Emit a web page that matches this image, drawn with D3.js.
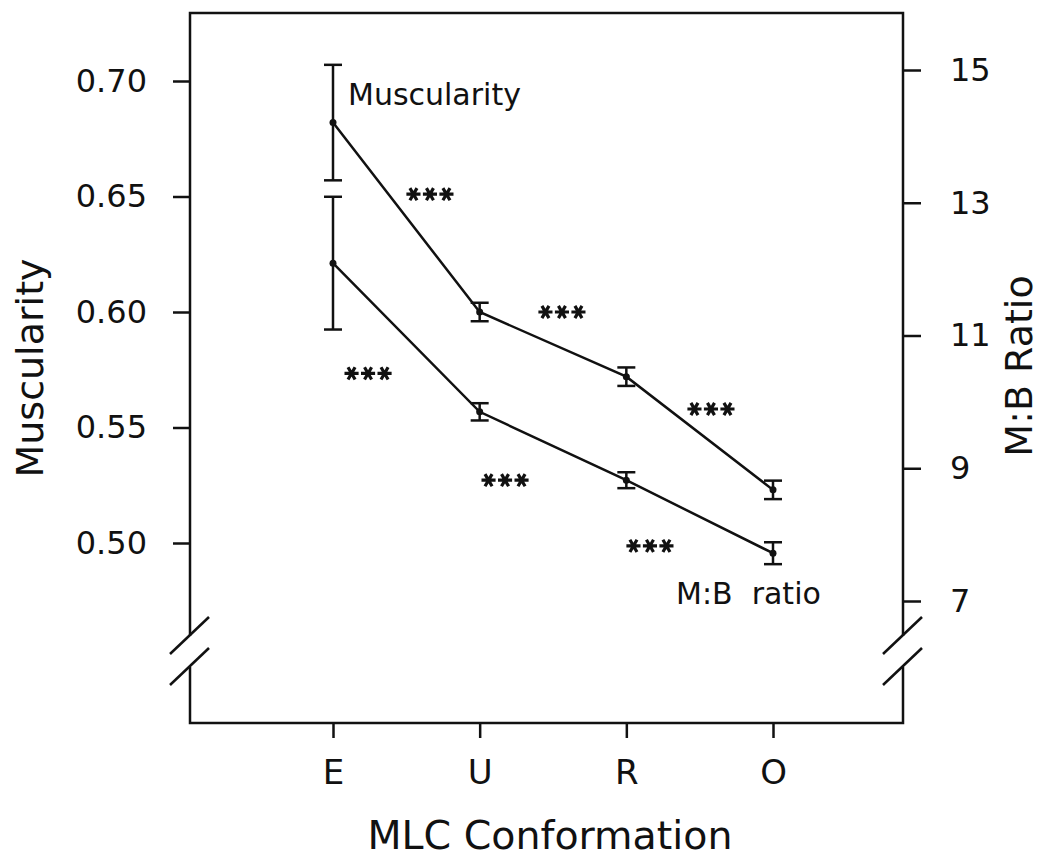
<!DOCTYPE html>
<html>
<head>
<meta charset="utf-8">
<script src="https://cdn.jsdelivr.net/npm/d3@7"></script>
<style>
  body { margin: 0; background: #fff; }
  svg { display: block; }
  text { font-family: "DejaVu Sans", sans-serif; fill: #111; }
</style>
</head>
<body>
<svg id="chart" width="1041" height="857"></svg>
<script>
// ---- data ----
const categories = ["E", "U", "R", "O"];
const muscularity = [0.682, 0.600, 0.572, 0.523];
const muscularitySE = [0.025, 0.004, 0.004, 0.004];
const mbRatio = [12.09, 9.85, 8.82, 7.72];
const mbRatioSE = [1.00, 0.13, 0.12, 0.165];
const leftTicks = [0.50, 0.55, 0.60, 0.65, 0.70];
const rightTicks = [7, 9, 11, 13, 15];
// significance marks: position between categories (index units) and value on the series' own axis
const sigMusc = [{i: 0.661, v: 0.651}, {i: 1.561, v: 0.600}, {i: 2.577, v: 0.558}];
const sigMB = [{i: 0.239, v: 10.43}, {i: 1.173, v: 8.82}, {i: 2.161, v: 7.83}];

// ---- layout ----
const svg = d3.select("#chart");
const box = {left: 190, right: 903, top: 13, bottom: 723};
const breakTop = 636, breakBot = 667;

const x = d3.scalePoint().domain(categories).range([333, 773]);
const xi = d3.scaleLinear().domain([0, categories.length - 1]).range([333, 773]);
const yL = d3.scaleLinear().domain([0.50, 0.70]).range([543, 81]);
const yR = d3.scaleLinear().domain([7, 15]).range([601, 70]);

const ink = "#111";
const sw = 2.5;

// frame with axis breaks
const g = svg.append("g").attr("stroke", ink).attr("stroke-width", sw).attr("fill", "none");
g.append("path").attr("d",
  `M${box.left},${breakTop} V${box.top} H${box.right} V${breakTop}`);
g.append("path").attr("d",
  `M${box.left},${breakBot} V${box.bottom} H${box.right} V${breakBot}`);
// break slashes
[box.left, box.right].forEach(ax => {
  [breakTop, breakBot].forEach(by => {
    g.append("line")
      .attr("x1", ax - 20).attr("y1", by + 18)
      .attr("x2", ax + 19).attr("y2", by - 19);
  });
});

// axes
const fontTick = 32;
const leftAxis = d3.axisLeft(yL).tickValues(leftTicks).tickFormat(d3.format(".2f"))
  .tickSize(17).tickPadding(26);
const gl = svg.append("g").attr("transform", `translate(${box.left},0)`).call(leftAxis);

const rightAxis = d3.axisRight(yR).tickValues(rightTicks).tickFormat(d3.format("d"))
  .tickSize(18).tickPadding(29);
const gr = svg.append("g").attr("transform", `translate(${box.right},0)`).call(rightAxis);

const bottomAxis = d3.axisBottom(x).tickSize(15).tickPadding(22);
const gb = svg.append("g").attr("transform", `translate(0,${box.bottom})`).call(bottomAxis);

[gl, gr, gb].forEach(a => {
  a.select(".domain").remove();
  a.selectAll(".tick line").attr("stroke", ink).attr("stroke-width", sw);
  a.selectAll(".tick text").attr("font-size", fontTick).attr("fill", ink)
    .style("font-family", "'DejaVu Sans', sans-serif");
});
gb.selectAll(".tick text").attr("font-size", 34);

// axis titles
svg.append("text")
  .attr("transform", `translate(43,368) rotate(-90)`)
  .attr("text-anchor", "middle").attr("font-size", 38).text("Muscularity");
svg.append("text")
  .attr("transform", `translate(1032,366) rotate(-90)`)
  .attr("text-anchor", "middle").attr("font-size", 38).text("M:B Ratio");
svg.append("text")
  .attr("x", 550).attr("y", 849)
  .attr("text-anchor", "middle").attr("font-size", 39.5).text("MLC Conformation");

// series
function drawSeries(vals, se, yScale) {
  const s = svg.append("g");
  const line = d3.line().x((d, i) => x(categories[i])).y(d => yScale(d));
  s.append("path").datum(vals).attr("d", line)
    .attr("fill", "none").attr("stroke", ink).attr("stroke-width", sw);
  const eb = s.selectAll("g.eb").data(vals).join("g");
  eb.append("line")
    .attr("x1", (d, i) => x(categories[i])).attr("x2", (d, i) => x(categories[i]))
    .attr("y1", (d, i) => yScale(d + se[i])).attr("y2", (d, i) => yScale(d - se[i]))
    .attr("stroke", ink).attr("stroke-width", sw);
  [1, -1].forEach(sign => {
    eb.append("line")
      .attr("x1", (d, i) => x(categories[i]) - 9).attr("x2", (d, i) => x(categories[i]) + 9)
      .attr("y1", (d, i) => yScale(d + sign * se[i])).attr("y2", (d, i) => yScale(d + sign * se[i]))
      .attr("stroke", ink).attr("stroke-width", sw);
  });
  eb.append("circle")
    .attr("cx", (d, i) => x(categories[i])).attr("cy", d => yScale(d))
    .attr("r", 3.5).attr("fill", ink);
}
drawSeries(muscularity, muscularitySE, yL);
drawSeries(mbRatio, mbRatioSE, yR);

// series labels
svg.append("text").attr("x", x("E") + 15).attr("y", yL(0.70) + 24)
  .attr("font-size", 30).text("Muscularity");
svg.append("text").attr("x", x("O") - 97).attr("y", yR(7) + 3)
  .attr("font-size", 30).attr("xml:space", "preserve").style("white-space", "pre")
  .text("M:B  ratio");

// significance asterisks
const star = d3.symbol(d3.symbolAsterisk).size(140);
function drawStars(marks, yScale) {
  marks.forEach(m => {
    const cx = xi(m.i), cy = yScale(m.v);
    [-16.5, 0, 16.5].forEach(dx => {
      svg.append("path").attr("d", star())
        .attr("transform", `translate(${cx + dx},${cy}) rotate(90)`)
        .attr("fill", "none").attr("stroke", ink).attr("stroke-width", 3.2);
    });
  });
}
drawStars(sigMusc, yL);
drawStars(sigMB, yR);
</script>
</body>
</html>
